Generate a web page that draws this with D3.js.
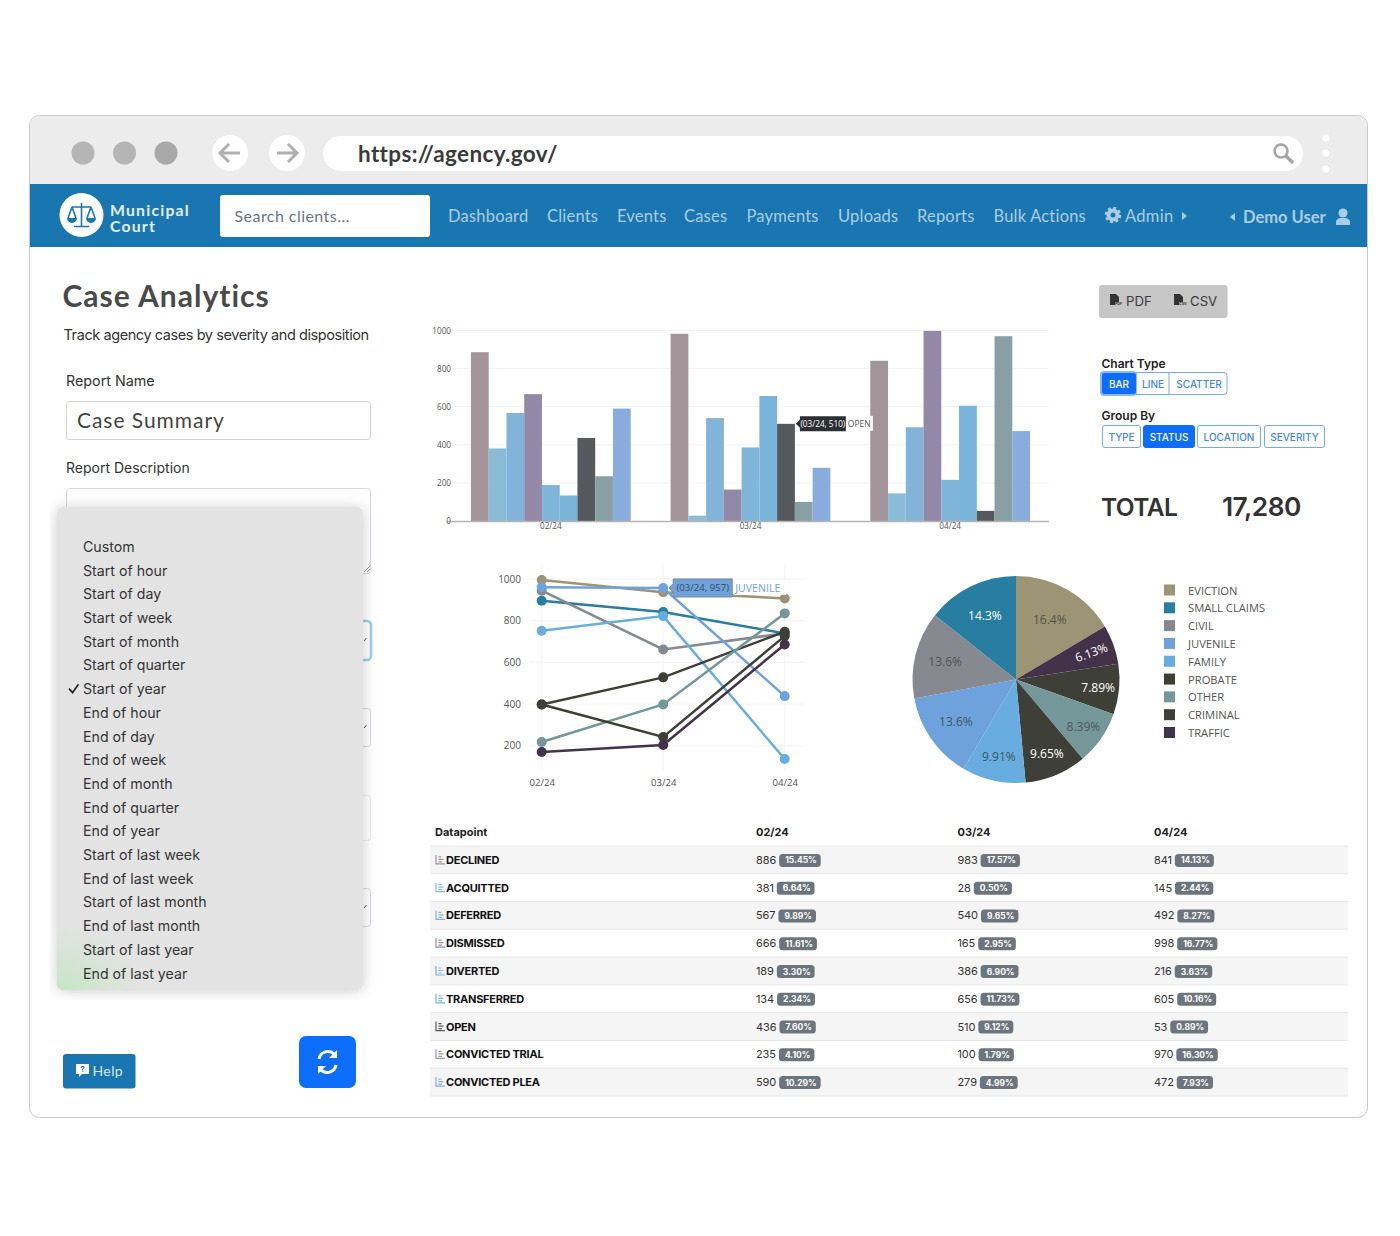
<!DOCTYPE html>
<html>
<head>
<meta charset="utf-8">
<script src="https://cdn.jsdelivr.net/npm/d3@7"></script>
<style>
html, body { margin: 0; padding: 0; background: #fff; }
svg { display: block; }
.grid line { stroke: #f3f3f3; }
.axis path, .axis line { display: none; }
</style>
</head>
<body>
<div id="canvas"></div>
<script>
// table and bar chart data
const months = ["02/24", "03/24", "04/24"];
const statuses = ["DECLINED", "ACQUITTED", "DEFERRED", "DISMISSED", "DIVERTED", "TRANSFERRED", "OPEN", "CONVICTED TRIAL", "CONVICTED PLEA"];
const feb = [886, 381, 567, 666, 189, 134, 436, 235, 590];
const mar = [983, 28, 540, 165, 386, 656, 510, 100, 279];
const apr = [841, 145, 492, 998, 216, 605, 53, 970, 472];
const febPct = ["15.45%", "6.64%", "9.89%", "11.61%", "3.30%", "2.34%", "7.60%", "4.10%", "10.29%"];
const marPct = ["17.57%", "0.50%", "9.65%", "2.95%", "6.90%", "11.73%", "9.12%", "1.79%", "4.99%"];
const aprPct = ["14.13%", "2.44%", "8.27%", "16.77%", "3.63%", "10.16%", "0.89%", "16.30%", "7.93%"];
const barColors = ["#a39499", "#8abcd7", "#82b4d9", "#9389a6", "#80b5da", "#79b4db", "#55585c", "#889fa3", "#88acdc"];
const barTicks = [0, 200, 400, 600, 800, 1000];

// line chart data
const types = ["EVICTION", "SMALL CLAIMS", "CIVIL", "JUVENILE", "FAMILY", "PROBATE", "OTHER", "CRIMINAL", "TRAFFIC"];
const evictionLine = [995, 936, 907];
const smallClaimsLine = [896, 842, 739];
const civilLine = [944, 662, 739];
const juvenileLine = [960, 957, 438];
const familyLine = [752, 822, 136];
const probateLine = [398, 528, 747];
const otherLine = [218, 398, 835];
const criminalLine = [398, 242, 726];
const trafficLine = [170, 203, 686];
const typeColors = ["#9c9475", "#277ea0", "#868a90", "#6ea2dc", "#67ade0", "#3e4038", "#74989a", "#3e4038", "#433249"];
const lineTicks = [200, 400, 600, 800, 1000];

// pie data, clockwise from the top
const pieNames = ["EVICTION", "TRAFFIC", "CRIMINAL", "OTHER", "PROBATE", "FAMILY", "JUVENILE", "CIVIL", "SMALL CLAIMS"];
const pieValues = [16.4, 6.13, 7.89, 8.39, 9.65, 9.91, 13.6, 13.6, 14.3];
const pieLabels = ["16.4%", "6.13%", "7.89%", "8.39%", "9.65%", "9.91%", "13.6%", "13.6%", "14.3%"];
const pieTextColors = ["#55534a", "#fff", "#fff", "#4c5a5c", "#fff", "#3f5566", "#3f5566", "#50535a", "#fff"];
const pieLabelRadius = [68.5, 80, 82.5, 82, 80, 79, 73.5, 73, 71.5];

// page text
const navItems = [["Dashboard", 448], ["Clients", 547], ["Events", 617], ["Cases", 684], ["Payments", 746.5], ["Uploads", 838], ["Reports", 917], ["Bulk Actions", 993.5]];
const menuItems = ["Custom", "Start of hour", "Start of day", "Start of week", "Start of month", "Start of quarter", "Start of year", "End of hour", "End of day", "End of week", "End of month", "End of quarter", "End of year", "Start of last week", "End of last week", "Start of last month", "End of last month", "Start of last year", "End of last year"];
const chartTypes = [["BAR", 1101, 36], ["LINE", 1137, 32], ["SCATTER", 1169, 58]];
const groupBys = [["TYPE", 1102, 39], ["STATUS", 1143, 52], ["LOCATION", 1197, 64], ["SEVERITY", 1264, 61]];

const UI = "Inter, 'Liberation Sans', sans-serif";
const NAV = "Lato, 'Noto Sans', sans-serif";
const CHART = "'Open Sans', 'Noto Sans', sans-serif";
const NAVTEXT = "#aacde5";

const svg = d3.select("#canvas").append("svg").attr("width", 1400).attr("height", 1236);

const defs = svg.append("defs");
const shadow = defs.append("filter").attr("id", "shadow").attr("x", "-10%").attr("y", "-10%").attr("width", "120%").attr("height", "120%");
shadow.append("feDropShadow").attr("dx", 0).attr("dy", 1).attr("stdDeviation", 7).attr("flood-color", "#000").attr("flood-opacity", 0.2);
const green = defs.append("radialGradient").attr("id", "green");
green.append("stop").attr("offset", "0%").attr("stop-color", "#c6e6c4").attr("stop-opacity", 1);
green.append("stop").attr("offset", "100%").attr("stop-color", "#c6e6c4").attr("stop-opacity", 0);
defs.append("clipPath").attr("id", "menuClip").append("rect").attr("x", 57).attr("y", 507).attr("width", 306).attr("height", 483).attr("rx", 6);
defs.append("clipPath").attr("id", "shadowClip").append("rect").attr("x", 50).attr("y", 490).attr("width", 330).attr("height", 510);

const rect = (p, x, y, w, h, fill, rx, stroke) => p.append("rect")
    .attr("x", x).attr("y", y).attr("width", w).attr("height", h)
    .attr("fill", fill).attr("rx", rx || 0).attr("stroke", stroke || "none");

const text = (p, str, x, y, size, color, font, weight, anchor) => p.append("text")
    .attr("x", x).attr("y", y).attr("font-size", size).attr("fill", color)
    .attr("font-family", font || UI).attr("font-weight", weight || 400)
    .attr("text-anchor", anchor || "start").attr("dominant-baseline", "central").text(str);

// browser window
rect(svg, 29.5, 115.5, 1338, 1002, "#fff", 10, "#c9c9c9");
svg.append("path").attr("d", "M30,184V126a10,10 0 0 1 10,-10H1357a10,10 0 0 1 10,10V184Z").attr("fill", "#ececec");
[[83, "#b5b5b5"], [124.5, "#b5b5b5"], [166, "#a8a8a8"]].forEach(d => svg.append("circle").attr("cx", d[0]).attr("cy", 153).attr("r", 11.5).attr("fill", d[1]));
[230, 287].forEach(cx => svg.append("circle").attr("cx", cx).attr("cy", 153).attr("r", 18).attr("fill", "#fff"));
svg.append("path").attr("d", "M240,153H220M229,144l-9,9l9,9M277,153H297M288,144l9,9l-9,9").attr("stroke", "#b0b0b0").attr("stroke-width", 3).attr("fill", "none");
rect(svg, 323, 136, 980, 35, "#fff", 17.5);
text(svg, "https://agency.gov/", 358, 153, 22.5, "#3b3b3b", NAV, 700).attr("letter-spacing", 0.35);
svg.append("circle").attr("cx", 1281).attr("cy", 151).attr("r", 6.5).attr("fill", "none").attr("stroke", "#a5a5a5").attr("stroke-width", 2.5);
svg.append("path").attr("d", "M1286,156L1293,163").attr("stroke", "#a5a5a5").attr("stroke-width", 3.5);
[138, 153, 169].forEach(cy => svg.append("circle").attr("cx", 1326).attr("cy", cy).attr("r", 3.5).attr("fill", "#fff"));

// nav bar
rect(svg, 30, 184, 1337, 63, "#1a76b0");
svg.append("circle").attr("cx", 81.5).attr("cy", 215).attr("r", 22).attr("fill", "#fff");
svg.append("path").attr("d", "M81.5,203V226M74,226.5H89M72,207H91M72,207L68,218M72,207L76,218M91,207L87,218M91,207L95,218").attr("stroke", "#1a76b0").attr("stroke-width", 1.6).attr("fill", "none");
svg.append("path").attr("d", "M67,218H77A5,5 0 0 1 67,218ZM86,218H96A5,5 0 0 1 86,218Z").attr("fill", "#1a76b0");
text(svg, "Municipal", 110, 209, 15.8, "#e4f0f7", NAV, 700).attr("letter-spacing", 1.2);
text(svg, "Court", 110, 225.5, 15.8, "#e4f0f7", NAV, 700).attr("letter-spacing", 1.2);
rect(svg, 220, 195, 210, 42, "#fff", 3);
text(svg, "Search clients...", 234.5, 215, 16, "#6c757d", NAV).attr("letter-spacing", 0.45);
navItems.forEach(d => text(svg, d[0], d[1], 216, 16.5, NAVTEXT, NAV).attr("letter-spacing", 0.2));
svg.append("circle").attr("cx", 1113).attr("cy", 215).attr("r", 4.5).attr("fill", "none").attr("stroke", NAVTEXT).attr("stroke-width", 4);
svg.append("circle").attr("cx", 1113).attr("cy", 215).attr("r", 7).attr("fill", "none").attr("stroke", NAVTEXT).attr("stroke-width", 2.5).attr("stroke-dasharray", "3 2.5");
text(svg, "Admin", 1125, 216, 16.5, NAVTEXT, NAV).attr("letter-spacing", 0.3);
svg.append("path").attr("d", "M1182,212l5,4l-5,4Z").attr("fill", NAVTEXT);
svg.append("path").attr("d", "M1235,213l-5,4l5,4Z").attr("fill", NAVTEXT);
text(svg, "Demo User", 1243, 217, 16.5, NAVTEXT, NAV, 700);
svg.append("circle").attr("cx", 1343).attr("cy", 213).attr("r", 4.5).attr("fill", NAVTEXT);
svg.append("path").attr("d", "M1336,225v-3a5,4 0 0 1 5,-4h4a5,4 0 0 1 5,4v3Z").attr("fill", NAVTEXT);

// left form
text(svg, "Case Analytics", 62.5, 294.5, 30, "#4a4a4a", NAV, 700).attr("letter-spacing", 1);
text(svg, "Track agency cases by severity and disposition", 63.5, 334.5, 14.5, "#333", UI).attr("letter-spacing", -0.42);
text(svg, "Report Name", 66, 380.5, 14.3, "#333");
rect(svg, 66.5, 401.5, 304, 38, "#fff", 3, "#cfd4d9");
text(svg, "Case Summary", 77, 419.5, 21, "#444", NAV).attr("letter-spacing", 0.95);
text(svg, "Report Description", 66, 467, 14, "#333");
rect(svg, 66.5, 488.5, 304, 85, "#fff", 3, "#d6dae0");
svg.append("path").attr("d", "M364,572l6,-6M367,572l3,-3").attr("stroke", "#999");
rect(svg, 60, 621, 311, 39, "#fff", 4, "#9ccdee").attr("stroke-width", 2.5);
rect(svg, 66.5, 708.5, 304, 38, "#fff", 3, "#d6dae0");
rect(svg, 66.5, 795.5, 304, 45, "#fff", 3, "#e8eaec");
rect(svg, 66.5, 888.5, 304, 38, "#fff", 3, "#d6dae0");
[640, 727, 907].forEach(y => svg.append("path").attr("d", `M364,${y + 1}l2.5,-3`).attr("stroke", "#555").attr("fill", "none"));

// dropdown menu
svg.append("g").attr("clip-path", "url(#shadowClip)").call(g => rect(g, 57, 507, 306, 483, "#e3e3e3", 6).attr("filter", "url(#shadow)"));
svg.append("g").attr("clip-path", "url(#menuClip)").append("ellipse")
    .attr("cx", 62).attr("cy", 988).attr("rx", 78).attr("ry", 62).attr("fill", "url(#green)");
const menuY = d3.scalePoint().domain(menuItems).range([546.5, 973]);
menuItems.forEach(d => text(svg, d, 83, menuY(d), 14.2, "#333"));
svg.append("path").attr("d", `M69,${menuY("Start of year")}l3.5,4l6,-8.5`).attr("stroke", "#222").attr("stroke-width", 1.7).attr("fill", "none");

// help and refresh
rect(svg, 63, 1054, 72.5, 34.5, "#1a76b0", 3);
svg.append("path").attr("d", "M76,1064h13v10h-7l-3,3v-3h-3Z").attr("fill", "#fff");
text(svg, "?", 82.5, 1069, 8, "#1a76b0", UI, 700, "middle");
text(svg, "Help", 92.5, 1070.5, 14, "#d6e8f3", NAV).attr("letter-spacing", 0.4);
rect(svg, 299, 1036, 57, 52, "#0d6efd", 7);
svg.append("path").attr("d", "M319,1059a9,9 0 0 1 15.5,-4.5l1.5,1.5M336,1065a9,9 0 0 1 -15.5,4.5l-1.5,-1.5").attr("stroke", "#fff").attr("stroke-width", 3).attr("fill", "none");
svg.append("path").attr("d", "M337,1050v8h-8ZM318,1074v-8h8Z").attr("fill", "#fff");

// export and chart controls
rect(svg, 1099, 285, 128.5, 33, "#c6c6c6", 3);
[[1110, "PDF", 1126], [1174, "CSV", 1190]].forEach(d => {
    svg.append("path").attr("d", `M${d[0]},294h6l3,3v5h-4v3h-5Z`).attr("fill", "#333");
    text(svg, d[1], d[0] + 5, 304, 3.6, "#333", UI, 700);
    text(svg, d[1], d[2], 300.5, 13.2, "#3a3a3a", UI);
});
text(svg, "Chart Type", 1101.5, 363, 12, "#222", UI, 600);
text(svg, "Group By", 1101.5, 415.5, 12, "#222", UI, 600);
const BLUE = "#0d6efd";
rect(svg, 1101.5, 372.5, 125.5, 22, "#fff", 3, "#74a9f5");
chartTypes.forEach((d, i) => {
    if (i == 0) rect(svg, d[1] - 1, 371, d[2] + 1, 25, "#8ab8f8", 4);
    if (i == 0) rect(svg, d[1] + 1, 373, d[2] - 2, 21, BLUE, 2);
    if (i == 2) svg.append("line").attr("x1", d[1]).attr("x2", d[1]).attr("y1", 373).attr("y2", 394).attr("stroke", "#74a9f5");
    text(svg, d[0], d[1] + d[2] / 2 + (i == 2 ? 1 : 0), 383.5, 10, i == 0 ? "#fff" : "#3f86f0", UI, 500, "middle");
});
groupBys.forEach((d, i) => {
    rect(svg, d[1] + 0.5, 425.5, d[2] - 1, 22, i == 1 ? BLUE : "#fff", 2.5, i == 1 ? BLUE : "#74a9f5");
    text(svg, d[0], d[1] + d[2] / 2, 436.5, 10, i == 1 ? "#fff" : "#3f86f0", UI, 500, "middle");
});
text(svg, "TOTAL", 1101, 507, 24.5, "#333", UI, 600).attr("letter-spacing", -0.6);
text(svg, "17,280", 1222, 506, 26.3, "#333", UI, 600).attr("letter-spacing", -0.5);

// bar chart
const series = [feb, mar, apr];
const x0 = d3.scaleBand().domain(months).range([451, 1050]).paddingInner(0.2).paddingOuter(0.1);
const x1 = d3.scaleBand().domain(statuses).range([0, x0.bandwidth()]);
const yBar = d3.scaleLinear().domain([0, 1000]).range([521, 330.5]);

svg.append("g").attr("class", "grid").selectAll("line").data(barTicks.slice(1)).enter().append("line")
    .attr("x1", 455).attr("x2", 1049).attr("y1", d => yBar(d)).attr("y2", d => yBar(d));

months.forEach((m, mi) => {
    svg.append("g").attr("transform", `translate(${x0(m)},0)`)
        .selectAll("rect").data(series[mi]).enter().append("rect")
        .attr("x", (d, i) => x1(statuses[i]))
        .attr("y", d => yBar(d))
        .attr("width", x1.bandwidth())
        .attr("height", d => yBar(0) - yBar(d))
        .attr("fill", (d, i) => barColors[i]);
});
svg.append("line").attr("x1", 447).attr("x2", 1049).attr("y1", 521.5).attr("y2", 521.5).attr("stroke", "#b5b5b5").attr("stroke-width", 1.3);

const barAxisY = svg.append("g").attr("class", "axis").attr("transform", "translate(451,0)")
    .call(d3.axisLeft(yBar).tickValues(barTicks).tickSize(0).tickPadding(0).tickFormat(d3.format("d")));
barAxisY.selectAll("text").attr("font-size", 8.2).attr("font-family", CHART).attr("fill", "#555");
const barAxisX = svg.append("g").attr("class", "axis").attr("transform", "translate(0,523)")
    .call(d3.axisBottom(x0).tickSize(0).tickPadding(0));
barAxisX.selectAll("text").attr("font-size", 8.2).attr("font-family", CHART).attr("fill", "#555");

// bar tooltip
const tipX = x0("03/24") + x1("OPEN") + x1.bandwidth();
const tipY = yBar(mar[statuses.indexOf("OPEN")]);
rect(svg, tipX + 5, tipY - 8, 73, 15, "#fff");
svg.append("path").attr("d", `M${tipX + 1},${tipY}l4,-4v-3.5h46v15h-46v-3.5Z`).attr("fill", "#2d3033");
text(svg, "(03/24, 510)", tipX + 28, tipY, 8.2, "#fff", CHART, 400, "middle");
text(svg, "OPEN", tipX + 53, tipY, 8.5, "#555", CHART);

// line chart
const xLine = d3.scalePoint().domain(months).range([541.7, 784.7]);
const yLine = d3.scaleLinear().domain([200, 1000]).range([745.7, 579]);
const lines = [evictionLine, smallClaimsLine, civilLine, juvenileLine, familyLine, probateLine, otherLine, criminalLine, trafficLine];

svg.append("g").attr("class", "grid").selectAll("line").data(lineTicks).enter().append("line")
    .attr("x1", 530).attr("x2", 805).attr("y1", d => yLine(d)).attr("y2", d => yLine(d));
svg.append("g").attr("class", "grid").selectAll("line").data(months).enter().append("line")
    .attr("x1", d => xLine(d)).attr("x2", d => xLine(d)).attr("y1", 564).attr("y2", 770);

const path = d3.line().x((d, i) => xLine(months[i])).y(d => yLine(d));
lines.forEach((l, i) => {
    const g = svg.append("g");
    g.append("path").attr("d", path(l)).attr("fill", "none").attr("stroke", typeColors[i]).attr("stroke-width", 2.5);
    g.selectAll("circle").data(l).enter().append("circle")
        .attr("cx", (d, j) => xLine(months[j])).attr("cy", d => yLine(d)).attr("r", 5).attr("fill", typeColors[i]);
});
const lineAxisY = svg.append("g").attr("class", "axis").attr("transform", "translate(521,0)")
    .call(d3.axisLeft(yLine).tickValues(lineTicks).tickSize(0).tickPadding(0).tickFormat(d3.format("d")));
lineAxisY.selectAll("text").attr("font-size", 10).attr("font-family", CHART).attr("fill", "#555");
const lineAxisX = svg.append("g").attr("class", "axis").attr("transform", "translate(0,776)")
    .call(d3.axisBottom(xLine).tickSize(0).tickPadding(3));
lineAxisX.selectAll("text").attr("font-size", 9.6).attr("font-family", CHART).attr("fill", "#555");

// line tooltip
const ltX = xLine("03/24");
const ltY = yLine(juvenileLine[1]);
rect(svg, ltX + 71, ltY - 8, 52, 15, "#fff", 0).attr("fill-opacity", 0.85);
svg.append("path").attr("d", `M${ltX + 6},${ltY}l4,-4.5v-4.5h59v18h-59v-4.5Z`).attr("fill", "#6ea2dc").attr("stroke", "#7b8794");
text(svg, "(03/24, 957)", ltX + 39.5, ltY, 9.6, "#3b4a5a", CHART, 400, "middle");
text(svg, "JUVENILE", ltX + 72, ltY, 10.6, "#6ea2dc", CHART);

// pie chart
const pie = d3.pie().sort(null).value(d => d);
const arc = d3.arc().innerRadius(0).outerRadius(103.5);
const pieG = svg.append("g").attr("transform", "translate(1016,679.5)");
pieG.selectAll("path").data(pie(pieValues)).enter().append("path")
    .attr("d", arc)
    .attr("fill", (d, i) => typeColors[types.indexOf(pieNames[i])]);
pieG.selectAll("text").data(pie(pieValues)).enter().append("text")
    .attr("transform", (d, i) => {
        const r = pieLabelRadius[i];
        const c = d3.arc().innerRadius(r).outerRadius(r).centroid(d);
        return `translate(${c})` + (pieNames[i] == "TRAFFIC" ? " rotate(-20)" : "");
    })
    .attr("text-anchor", "middle").attr("dominant-baseline", "central")
    .attr("font-size", 12).attr("font-family", CHART)
    .attr("fill", (d, i) => pieTextColors[i])
    .text((d, i) => pieLabels[i]);

const legendY = d3.scalePoint().domain(types).range([590, 732.5]);
types.forEach((t, i) => {
    rect(svg, 1164, legendY(t) - 5.5, 11, 11, typeColors[i]);
    text(svg, t, 1188, legendY(t), 11.2, "#555", CHART);
});

// table
const pcts = [febPct, marPct, aprPct];
const colX = d3.scaleOrdinal().domain(months).range([756, 957.5, 1154]);
const rowY = d3.scaleBand().domain(statuses).range([846, 1096]);

text(svg, "Datapoint", 435, 832, 11, "#222", UI, 700);
months.forEach(m => text(svg, m, colX(m), 832, 11, "#222", UI, 700));

statuses.forEach((s, i) => {
    const y = rowY(s);
    const cy = y + rowY.bandwidth() / 2;
    rect(svg, 430, y, 918, rowY.bandwidth(), i % 2 == 0 ? "#f5f5f5" : "#fff");
    svg.append("line").attr("x1", 430).attr("x2", 1348).attr("y1", y).attr("y2", y).attr("stroke", "#e7e7e7");
    svg.append("path").attr("d", `M436,${cy - 5}v9h9M438.5,${cy - 3}h3M438.5,${cy - 0.5}h5M438.5,${cy + 2}h3.5`)
        .attr("stroke", barColors[i]).attr("stroke-width", 1.2).attr("fill", "none");
    text(svg, s, 446, cy, 11, "#111", UI, 700).attr("letter-spacing", -0.25);
    months.forEach((m, mi) => {
        const n = text(svg, series[mi][i], colX(m), cy, 11, "#333", UI).attr("letter-spacing", -0.1);
        const bx = colX(m) + n.node().getComputedTextLength() + 3;
        const lab = text(svg, pcts[mi][i], bx + 6, cy + 0.5, 8.5, "#fff", UI, 700);
        const w = lab.node().getComputedTextLength() + 10;
        rect(svg, bx, cy - 6, w, 13, "#6c757d", 3.5);
        lab.raise();
    });
});
svg.append("line").attr("x1", 430).attr("x2", 1348).attr("y1", 1096).attr("y2", 1096).attr("stroke", "#e7e7e7");
</script>
</body>
</html>
